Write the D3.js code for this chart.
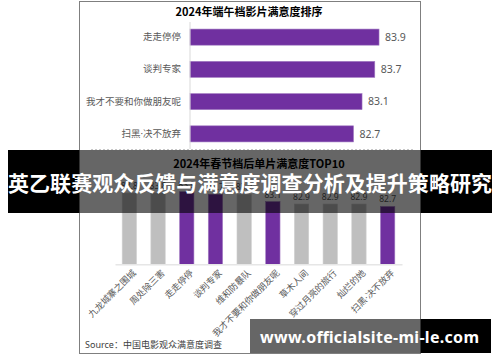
<!DOCTYPE html>
<html>
<head>
<meta charset="utf-8">
<script src="https://cdn.jsdelivr.net/npm/d3@7"></script>
<style>
  body { margin: 0; background: #fff; }
  svg { display: block; font-family: "Noto Sans CJK SC", "Noto Sans", sans-serif; }
</style>
</head>
<body>
<div id="chart"></div>
<script>
// top chart: Dragon Boat festival ranking
var dragonFilms = ["走走停停", "谈判专家", "我才不要和你做朋友呢", "扫黑·决不放弃"];
var dragonScores = [83.9, 83.7, 83.1, 82.7];

// bottom chart: post Spring Festival top 10
var springFilms = ["九龙城寨之围城", "周处除三害", "走走停停", "谈判专家", "维和防暴队",
    "我才不要和你做朋友呢", "草木人间", "穿过月亮的旅行", "灿烂的她", "扫黑·决不放弃"];
var springScores = [83.8, 83.8, 83.9, 83.7, 83.7, 83.1, 82.9, 82.9, 82.9, 82.7];

var titleTop = "2024年端午档影片满意度排序";
var titleBottom = "2024年春节档后单片满意度TOP10";
var sourceText = "Source：中国电影观众满意度调查";
var bannerText = "英乙联赛观众反馈与满意度调查分析及提升策略研究";
var siteText = "www.officialsite-mi-le.com";

var W = 500, H = 362;
var purple = "#7030a0", grey = "#bfbfbf", labelColor = "#595959";
var labelFont = "'Noto Sans', 'Noto Sans CJK SC', sans-serif";

var svg = d3.select("#chart").append("svg")
    .attr("width", W)
    .attr("height", H);

// card
svg.append("rect")
    .attr("x", 79.5).attr("y", 1.5)
    .attr("width", 341).attr("height", 352)
    .attr("fill", "#fff")
    .attr("stroke", "#7f7f7f");

// ---- top chart (horizontal bars)
svg.append("text")
    .attr("x", 249).attr("y", 16)
    .attr("text-anchor", "middle")
    .attr("font-size", 11).attr("font-weight", "bold")
    .attr("fill", "#000")
    .text(titleTop);

var x1 = d3.scaleLinear().domain([75, 85]).range([190, 402.4]);
var y1 = d3.scaleBand().domain(dragonFilms).range([21, 150])
    .paddingInner(0.5).paddingOuter(0.25);

var gTop = svg.append("g");
gTop.selectAll("rect")
    .data(dragonFilms)
    .enter()
    .append("rect")
    .attr("x", x1(75))
    .attr("y", function (d) { return y1(d); })
    .attr("width", function (d, i) { return x1(dragonScores[i]) - x1(75); })
    .attr("height", y1.bandwidth())
    .attr("fill", purple)
    .attr("stroke", "#a57fc4")
    .attr("stroke-width", 0.6);

gTop.selectAll("text.val")
    .data(dragonFilms)
    .enter()
    .append("text")
    .attr("class", "val")
    .attr("x", function (d, i) { return x1(dragonScores[i]) + 6; })
    .attr("y", function (d) { return y1(d) + y1.bandwidth() / 2; })
    .attr("dy", "0.35em")
    .attr("font-size", 10.5)
    .attr("font-family", labelFont)
    .attr("fill", labelColor)
    .text(function (d, i) { return dragonScores[i].toFixed(1); });

var yAxis1 = d3.axisLeft(y1).tickSize(0).tickPadding(9);
var gy = svg.append("g")
    .attr("transform", "translate(" + x1(75) + ",0)")
    .call(yAxis1);
gy.select(".domain").attr("stroke", "#d9d9d9").attr("d", "M0,22V149");
gy.selectAll("text").attr("font-size", 9.5).attr("fill", labelColor)
    .attr("font-family", labelFont);

// dashed separator
svg.append("line")
    .attr("x1", 91).attr("x2", 413)
    .attr("y1", 149.5).attr("y2", 149.5)
    .attr("stroke", "#c8c8c8")
    .attr("stroke-dasharray", "2,2");

// ---- bottom chart (vertical bars)
svg.append("text")
    .attr("x", 259).attr("y", 168)
    .attr("text-anchor", "middle")
    .attr("font-size", 11).attr("font-weight", "bold")
    .attr("fill", "#000")
    .text(titleBottom);

var x2 = d3.scaleBand().domain(springFilms).range([115, 402])
    .paddingInner(0.5).paddingOuter(0.25);
var y2 = d3.scaleLinear().domain([78, 85]).range([264.3, 178.2]);

var purpleSet = new Set(dragonFilms);
var gBottom = svg.append("g");
gBottom.selectAll("rect")
    .data(springFilms)
    .enter()
    .append("rect")
    .attr("x", function (d) { return x2(d); })
    .attr("y", function (d, i) { return y2(springScores[i]); })
    .attr("width", x2.bandwidth())
    .attr("height", function (d, i) { return y2(78) - y2(springScores[i]); })
    .attr("fill", function (d) { return purpleSet.has(d) ? purple : grey; })
    .attr("stroke", function (d) { return purpleSet.has(d) ? "#a57fc4" : "#d0d0d0"; })
    .attr("stroke-width", 0.6);

gBottom.selectAll("text.val")
    .data(springFilms)
    .enter()
    .append("text")
    .attr("class", "val")
    .attr("x", function (d) { return x2(d) + x2.bandwidth() / 2; })
    .attr("y", function (d, i) { return y2(springScores[i]) - 4; })
    .attr("text-anchor", "middle")
    .attr("font-size", 8.5)
    .attr("font-family", labelFont)
    .attr("fill", labelColor)
    .text(function (d, i) { return springScores[i].toFixed(1); });

var xAxis2 = d3.axisBottom(x2).tickSize(0).tickPadding(0);
var gx = svg.append("g")
    .attr("transform", "translate(0," + y2(78) + ")")
    .call(xAxis2);
gx.select(".domain").attr("stroke", "#e6e6e6").attr("stroke-width", 1.5);
gx.selectAll("text")
    .attr("font-size", 9)
    .attr("fill", labelColor)
    .attr("font-family", labelFont)
    .attr("text-anchor", "end")
    .attr("dy", "0.35em")
    .attr("transform", "translate(5,7) rotate(-45)");

svg.append("text")
    .attr("x", 85).attr("y", 348)
    .attr("font-size", 9)
    .attr("font-family", labelFont)
    .attr("fill", "#404040")
    .text(sourceText);

// ---- overlays: banner and site box
function overlay(x0, y0, w, h) {
    // black outside the card, translucent over it
    svg.append("rect").attr("x", x0).attr("y", y0)
        .attr("width", Math.max(0, 79 - x0)).attr("height", h).attr("fill", "#000");
    svg.append("rect").attr("x", 421).attr("y", y0)
        .attr("width", Math.max(0, x0 + w - 421)).attr("height", h).attr("fill", "#000");
    var cx0 = Math.max(x0, 79), cx1 = Math.min(x0 + w, 421);
    svg.append("rect").attr("x", cx0).attr("y", y0)
        .attr("width", cx1 - cx0).attr("height", h)
        .attr("fill", "#000").attr("fill-opacity", 0.6);
}

overlay(8, 150, 484, 63);
svg.append("text")
    .attr("x", 250).attr("y", 190.5)
    .attr("text-anchor", "middle")
    .attr("font-size", 21).attr("font-weight", "bold")
    .attr("fill", "#fff")
    .attr("textLength", 484)
    .text(bannerText);

overlay(250, 319, 241, 34);
svg.append("text")
    .attr("x", 260).attr("y", 343)
    .attr("font-family", "Noto Sans, sans-serif")
    .attr("font-size", 16).attr("font-weight", "bold")
    .attr("fill", "#fff")
    .attr("textLength", 219)
    .text(siteText);
</script>
</body>
</html>
